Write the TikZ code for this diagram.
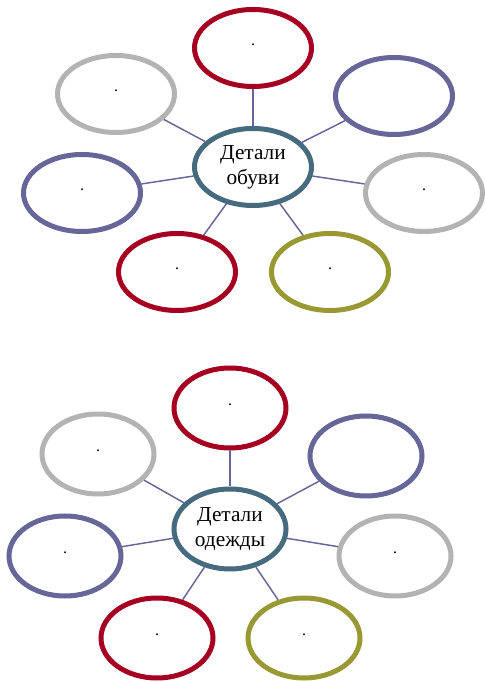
\documentclass[tikz,border=0pt]{standalone}
\usepackage{fontspec}
\setmainfont{Liberation Serif}
\usetikzlibrary{shapes.geometric}
\definecolor{ovred}{HTML}{A50021}
\definecolor{ovgray}{HTML}{B3B3B3}
\definecolor{ovpurple}{HTML}{666699}
\definecolor{ovteal}{HTML}{466A7E}
\definecolor{ovolive}{HTML}{999933}
\begin{document}
\begin{tikzpicture}[x=0.75pt, y=0.75pt,
		oval/.style={ellipse, draw=#1, line width=3.75pt, fill=white, inner sep=0pt,
			minimum width=87.75pt, minimum height=57.75pt, font=\fontsize{12}{14}\selectfont},
		ovalb/.style={oval=#1, minimum width=84pt, minimum height=60pt},
		hub/.style={font=\fontsize{16}{19}\selectfont, align=center},
		spoke/.style={draw=ovpurple, line width=1.1pt}]
			\useasboundingbox (0,0) rectangle (485,682);
			% shoes
			\node [oval=ovteal, hub] (shoe) at (253,515) {Детали\\обуви};
			\node [oval=ovred] (shoeT) at (253,634) {\raisebox{5pt}{.}};
			\node [oval=ovgray] (shoeTL) at (116,588) {\raisebox{5pt}{.}};
			\node [oval=ovpurple] (shoeTR) at (394,586) {};
			\node [oval=ovpurple] (shoeL) at (82,489) {\raisebox{5pt}{.}};
			\node [oval=ovgray] (shoeR) at (424,489) {\raisebox{5pt}{.}};
			\node [oval=ovred] (shoeBL) at (177,410) {\raisebox{5pt}{.}};
			\node [oval=ovolive] (shoeBR) at (330,410) {\raisebox{5pt}{.}};
			% clothes
			\node [ovalb=ovteal, hub] (cloth) at (230,153) {Детали\\одежды};
			\node [ovalb=ovred] (clothT) at (230,274) {\raisebox{5pt}{.}};
			\node [ovalb=ovgray] (clothTL) at (98,228) {\raisebox{5pt}{.}};
			\node [ovalb=ovpurple] (clothTR) at (366,226) {};
			\node [ovalb=ovpurple] (clothL) at (65,126) {\raisebox{5pt}{.}};
			\node [ovalb=ovgray] (clothR) at (395,126) {\raisebox{5pt}{.}};
			\node [ovalb=ovred] (clothBL) at (157,44) {\raisebox{5pt}{.}};
			\node [ovalb=ovolive] (clothBR) at (304,44) {\raisebox{5pt}{.}};
			% spokes
			\foreach \p in {T,TL,TR,L,R,BL,BR} {
				\draw [spoke] (shoe) -- (shoe\p);
				\draw [spoke] (cloth) -- (cloth\p);
			}
		\end{tikzpicture}
\end{document}
